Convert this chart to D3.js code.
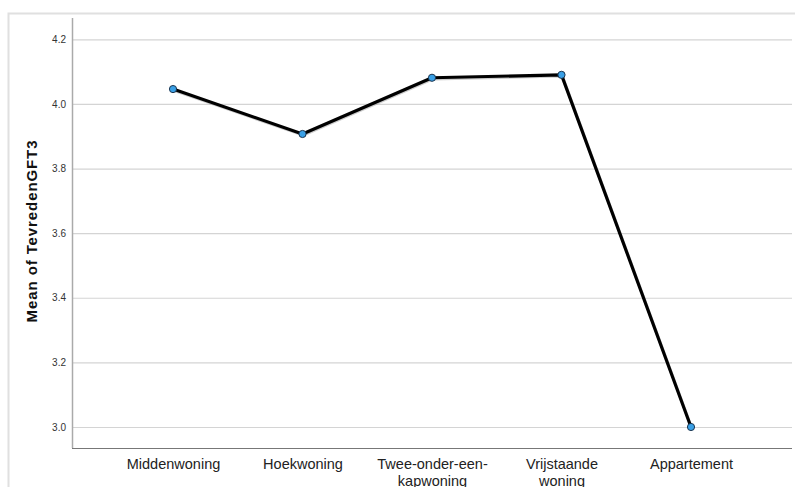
<!DOCTYPE html>
<html><head><meta charset="utf-8">
<script src="https://cdn.jsdelivr.net/npm/d3@7"></script>
<style>body{margin:0;background:#fff}svg{display:block}</style>
</head><body><svg id="c" width="795" height="487"></svg>
<script>
const categories = [["Middenwoning"],["Hoekwoning"],["Twee-onder-een-","kapwoning"],["Vrijstaande","woning"],["Appartement"]];
const catKeys = ["Middenwoning","Hoekwoning","Twee-onder-een-kapwoning","Vrijstaande woning","Appartement"];
const means = [4.046, 3.907, 4.081, 4.090, 3.000];
const yTicks = [3.0, 3.2, 3.4, 3.6, 3.8, 4.0, 4.2];
const yTitle = "Mean of TevredenGFT3";

const svg = d3.select("#c");
const L = 72, R = 792, T = 18, B = 448;
// frame
svg.append("path").attr("d", `M8.5,487 V13.5 H795`).attr("fill","none").attr("stroke","#e0e0e0").attr("stroke-width",2);

const x = d3.scalePoint().domain(catKeys).range([L, R]).padding(0.78);
const y = d3.scaleLinear().domain([2.935, 4.266]).range([B, T]);

// gridlines
svg.append("g").selectAll("line").data(yTicks).join("line")
  .attr("x1", L).attr("x2", R).attr("y1", d => y(d)+0.5).attr("y2", d => y(d)+0.5)
  .attr("stroke", "#d4d4d4").attr("stroke-width", 1.2);

// y axis
const ya = svg.append("g").attr("transform", `translate(${L},0)`)
  .call(d3.axisLeft(y).tickValues(yTicks).tickFormat(d3.format(".1f")).tickSize(0).tickPadding(6));
ya.select(".domain").remove();
ya.selectAll("text").attr("font-family","Liberation Sans, Arial, sans-serif").attr("font-size",10).attr("fill","#333");
svg.append("line").attr("x1",L+0.5).attr("x2",L+0.5).attr("y1",T).attr("y2",B).attr("stroke","#aaa").attr("stroke-width",1.5);

// x axis
const xa = svg.append("g").attr("transform", `translate(0,${B})`)
  .call(d3.axisBottom(x).tickSize(0).tickPadding(11));
xa.select(".domain").remove();
xa.selectAll("text").each(function(d, i){
  const t = d3.select(this).text(null);
  categories[i].forEach((s, j) => t.append("tspan").attr("x", 0).attr("dy", j === 0 ? "0.71em" : "1.12em").text(s));
}).attr("font-family","Liberation Sans, Arial, sans-serif").attr("font-size",14.5).attr("fill","#222");
svg.append("line").attr("x1",L).attr("x2",R).attr("y1",B+0.5).attr("y2",B+0.5).attr("stroke","#777").attr("stroke-width",1.2);

// y title
svg.append("text").attr("transform", `translate(33,231) rotate(-90)`).attr("text-anchor","middle")
  .attr("dominant-baseline","middle")
  .attr("font-family","Liberation Sans, Arial, sans-serif").attr("font-weight","bold").attr("font-size",15).attr("letter-spacing",0.9).attr("fill","#111")
  .text(yTitle);

// line
const data = catKeys.map((k, i) => ({k, v: means[i]}));
const line = d3.line().x(d => x(d.k)).y(d => y(d.v));
svg.append("path").datum(data).attr("d", line).attr("fill","none").attr("stroke","#999").attr("stroke-width",3)
  .attr("transform","translate(0.8,1.2)").attr("stroke-opacity",0.5).attr("stroke-linejoin","round");
svg.append("path").datum(data).attr("d", line).attr("fill","none").attr("stroke","#000").attr("stroke-width",3.2).attr("stroke-linejoin","round");

svg.append("g").selectAll("circle").data(data).join("circle")
  .attr("cx", d => x(d.k)).attr("cy", d => y(d.v)).attr("r", 3.6)
  .attr("fill", "#3aa0e6").attr("stroke", "#1a3550").attr("stroke-width", 1);
</script></body></html>
